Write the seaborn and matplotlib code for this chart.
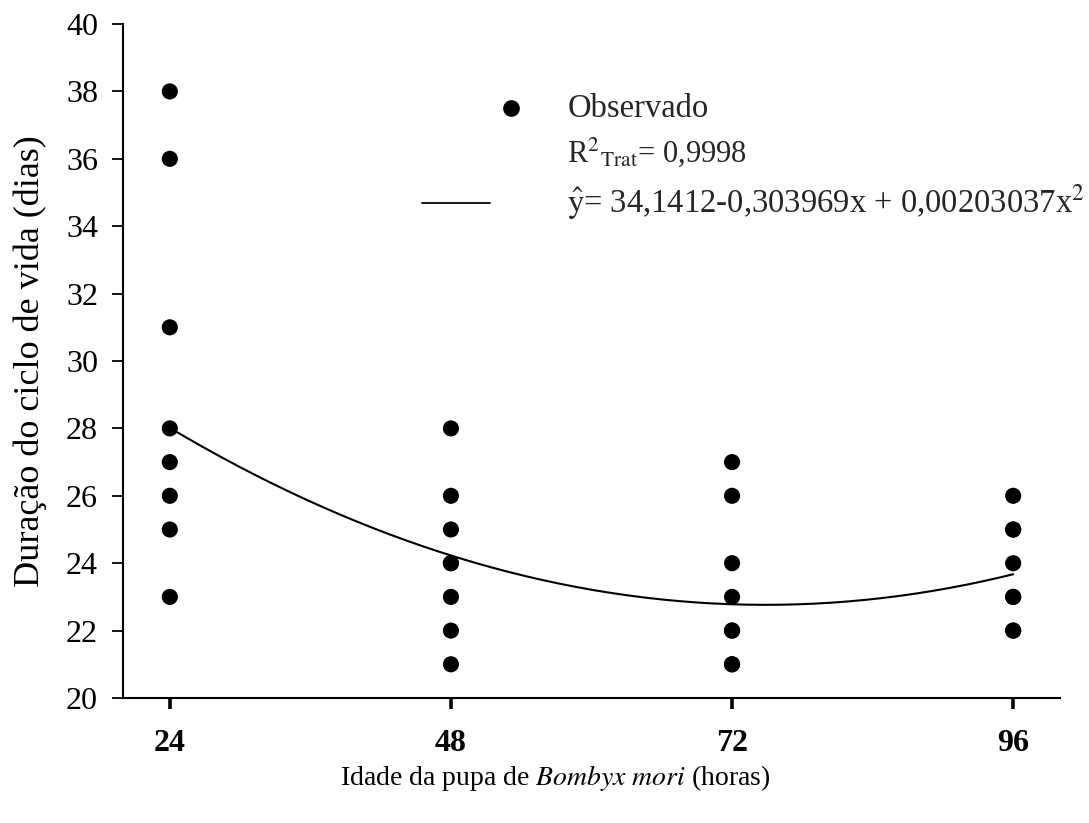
import numpy as np
import pandas as pd
import matplotlib
matplotlib.use("Agg")
import matplotlib.pyplot as plt
from matplotlib.lines import Line2D
import seaborn as sns

# Observed life-cycle duration (days) by pupa age (hours)
idade_24 = [38, 36, 31, 28, 27, 26, 25, 23]
idade_48 = [28, 26, 25, 24, 24, 23, 22, 21]
idade_72 = [27, 26, 24, 23, 22, 22, 21, 21]
idade_96 = [26, 25, 25, 24, 23, 23, 22, 22]
idades = [24, 48, 72, 96]

# Quadratic regression coefficients
b0, b1, b2 = 34.1412, -0.303969, 0.00203037

x_ticks = [24, 48, 72, 96]
y_ticks = [20, 22, 24, 26, 28, 30, 32, 34, 36, 38, 40]

obs = pd.DataFrame({
    "idade": np.repeat(idades, [len(idade_24), len(idade_48), len(idade_72), len(idade_96)]),
    "duracao": idade_24 + idade_48 + idade_72 + idade_96,
})
xs = np.linspace(24, 96, 200)
fit = pd.DataFrame({"idade": xs, "duracao": b0 + b1 * xs + b2 * xs ** 2})

sns.set_theme(style="ticks")
plt.rcParams["font.family"] = ["Liberation Serif", "DejaVu Serif"]
plt.rcParams["mathtext.fontset"] = "stix"

fig = plt.figure(figsize=(10.89, 8.23), dpi=100)
ax = fig.add_axes([0.1129, 0.1519, 0.8605, 0.8189])

sns.lineplot(data=fit, x="idade", y="duracao", color="black", linewidth=1.5, ax=ax)
sns.scatterplot(data=obs, x="idade", y="duracao", color="black", s=135,
                edgecolor="none", ax=ax, zorder=3)

ax.set_xlim(20, 100)
ax.set_ylim(20, 40)
ax.set_xticks(x_ticks)
ax.set_yticks(y_ticks)
ax.set_xticklabels([str(v) for v in x_ticks], fontsize=23, fontweight="bold")
ax.set_yticklabels([str(v) for v in y_ticks], fontsize=23)

for side in ["top", "right"]:
    ax.spines[side].set_visible(False)
for side in ["left", "bottom"]:
    ax.spines[side].set_linewidth(1.5)
    ax.spines[side].set_color("black")

ax.tick_params(axis="y", direction="out", length=8, width=1.3, pad=10, colors="black")
ax.tick_params(axis="x", direction="out", length=8, width=2.6, pad=14, colors="black")

ax.set_ylabel("Duração do ciclo de vida (dias)", fontsize=26, labelpad=14, color="black")
ax.set_xlabel("Idade da pupa de $\\mathit{Bombyx\\ mori}$ (horas)", fontsize=20,
              labelpad=4, color="black")
ax.xaxis.set_label_coords(0.461, -0.097)

# Legend block
tr = ax.transAxes
ax.add_line(Line2D([0.414], [0.875], marker="o", markersize=11, color="black",
                   linestyle="none", transform=tr))
ax.text(0.474, 0.875, "Observado", transform=tr, fontsize=23.5, va="center", ha="left")
ax.text(0.474, 0.81, "R$^2$$_{\\mathrm{Trat}}$= 0,9998", transform=tr, fontsize=22,
        va="center", ha="left")
ax.add_line(Line2D([0.319, 0.392], [0.735, 0.735], color="black", linewidth=1.3,
                   transform=tr))
ax.text(0.474, 0.735, "$\\hat{\\mathrm{y}}$= 34,1412-0,303969x + 0,00203037x$^{2}$",
        transform=tr, fontsize=23.5, va="center", ha="left")

fig.savefig("out.png", dpi=100)
